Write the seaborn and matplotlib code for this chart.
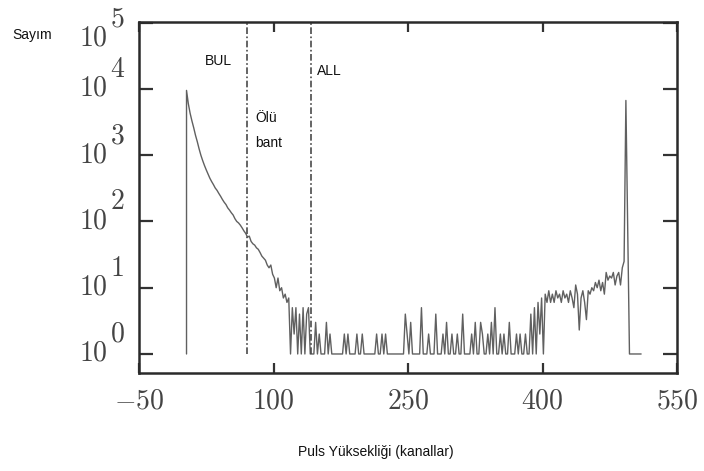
import numpy as np
import pandas as pd
import matplotlib
matplotlib.use("Agg")
import matplotlib.pyplot as plt
import seaborn as sns
from matplotlib.ticker import NullLocator, FixedLocator
from matplotlib.transforms import blended_transform_factory, offset_copy

# ---------------- data ----------------
first_channel = 3
channel_step = 2

# channels 3..141 (step 2): low-energy tail decaying from the threshold peak
decay_counts = [
    9500, 6000, 4300, 3300, 2600, 2000, 1600, 1250, 1000, 830,
    700, 600, 520, 450, 400, 360, 320, 295, 265, 240,
    215, 195, 180, 160, 148, 135, 125, 110, 100, 95,
    88, 80, 72, 66, 58, 60, 50, 46, 44, 40,
    38, 34, 30, 28, 26, 22, 20, 22, 16, 14,
    10, 14, 9, 10, 7, 8, 6, 7, 1, 5,
    2, 5, 1, 4, 1, 5, 1, 4, 5, 1,
]
# channels 143..387 (step 2): flat noisy region
noise_counts = [
    1, 1, 3, 1, 2, 1, 1, 1, 3, 1,
    2, 1, 1, 1, 1, 1, 1, 1, 2, 1,
    2, 1, 1, 1, 1, 2, 1, 1, 2, 1,
    1, 1, 1, 1, 1, 1, 2, 1, 1, 2,
    1, 2, 1, 1, 1, 1, 1, 1, 1, 1,
    1, 1, 4, 2, 1, 3, 1, 1, 1, 1,
    1, 5, 1, 1, 1, 2, 1, 1, 1, 4,
    1, 1, 1, 2, 1, 3, 1, 1, 2, 1,
    1, 2, 1, 1, 4, 1, 1, 1, 1, 2,
    1, 3, 1, 1, 3, 2, 1, 1, 2, 1,
    3, 1, 5, 1, 1, 2, 1, 2, 1, 1,
    3, 1, 1, 1, 2, 1, 2, 1, 1, 2,
    1, 1, 4,
]
# channels 389..491 (step 2): rising region before the high peak
rise_counts = [
    1, 5, 1, 6, 2, 7, 1, 8, 6, 9,
    6, 8, 6, 9, 7, 8, 6, 9, 7, 8,
    6, 9, 7, 5, 11, 8, 2.3, 7, 9, 6,
    3.3, 9, 8, 10, 9, 12, 10, 13, 9, 12,
    8, 17, 13, 15, 14, 17, 11, 15, 17, 11,
    20, 25,
]
lead_channels = [3]
lead_counts = [1]
peak_channels = [493, 497, 510]
peak_counts = [6700, 1, 1]

marker_channels = [71, 142]
annotations = ["BUL", "ALL", "Ölü", "bant"]
annotation_x = [23, 149, 80, 80]
annotation_y = [23000, 16300, 3170, 1330]

x_ticks = [-50, 100, 250, 400, 550]
y_exponents = [0, 1, 2, 3, 4, 5]

# ---------------- build table ----------------
body = decay_counts + noise_counts + rise_counts
body_channels = [first_channel + channel_step * i for i in range(len(body))]
df = pd.DataFrame({
    "channel": lead_channels + body_channels + peak_channels,
    "count": lead_counts + body + peak_counts,
})

# ---------------- style ----------------
sns.set_theme(style="white")
plt.rcParams["font.family"] = ["Liberation Sans", "DejaVu Sans"]
plt.rcParams["mathtext.fontset"] = "cm"

fig = plt.figure(figsize=(7.04, 4.71), dpi=100)
ax = fig.add_axes([139 / 704, 1 - 373 / 471, 538 / 704, 351 / 471])

sns.lineplot(data=df, x="channel", y="count", estimator=None, sort=False,
             ax=ax, color="#606060", linewidth=1.0)
ax.set_yscale("log")
ax.set_xlim(-50, 550)
ax.set_ylim(10 ** -0.287, 10 ** 5.01)

ax.vlines(marker_channels, 1, 10 ** 5.01, colors="#4a4a4a",
          linestyles=(0, (4, 1.5, 1, 1.5)), linewidth=1.2)

for s in ax.spines.values():
    s.set_color("#2a2a2a")
    s.set_linewidth(1.8)

ax.set_xlabel("")
ax.set_ylabel("")
ax.xaxis.set_major_locator(FixedLocator(x_ticks))
ax.xaxis.set_minor_locator(NullLocator())
ax.set_xticklabels([f"${v}$" for v in x_ticks], fontsize=20, color="#444444")
ax.tick_params(axis="x", which="major", direction="in", length=7, width=1.6,
               top=True, bottom=True, pad=11, color="#333333")

ax.yaxis.set_major_locator(FixedLocator([10.0 ** e for e in y_exponents]))
ax.yaxis.set_minor_locator(NullLocator())
ax.tick_params(axis="y", which="major", direction="in", length=10, width=1.6,
               left=True, right=True, labelleft=False, labelright=False,
               color="#333333")

trans = blended_transform_factory(ax.transAxes, ax.transData)
for e in y_exponents:
    dy = -16 if e == y_exponents[-1] else 0
    t1 = offset_copy(trans, fig=fig, x=-31, y=dy, units="dots")
    ax.text(0, 10.0 ** e, "$10$", transform=t1, ha="right", va="center",
            fontsize=20, color="#444444")
    t2 = offset_copy(trans, fig=fig, x=-29, y=dy + 6, units="dots")
    ax.text(0, 10.0 ** e, f"${e}$", transform=t2, ha="left", va="bottom",
            fontsize=20, color="#444444")

for txt, xx, yy in zip(annotations, annotation_x, annotation_y):
    ax.text(xx, yy, txt, fontsize=10, color="#111111", va="baseline", ha="left")

fig.text(12 / 704, 1 - 39 / 471, "Sayım", fontsize=10, color="#111111",
         va="baseline", ha="left")
fig.text(376 / 704, 1 - 452 / 471, "Puls Yüksekliği (kanallar)", fontsize=10,
         color="#111111", ha="center", va="center")

fig.savefig("out.png", dpi=100, facecolor="white")
